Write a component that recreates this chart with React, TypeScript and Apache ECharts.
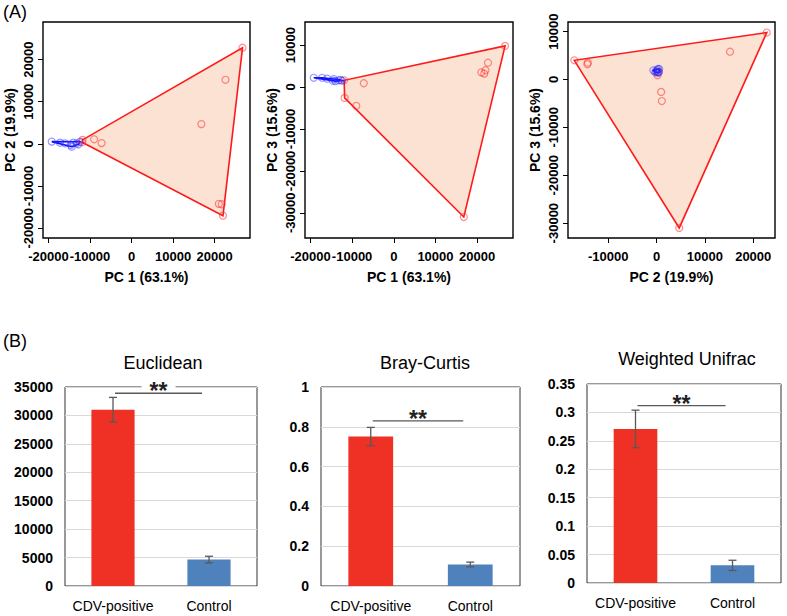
import React, { useEffect, useRef } from "react";
import * as echarts from "echarts";

const FONT = "'Liberation Sans', Arial, Helvetica, sans-serif";

// ---- (A) PCA scores ----
const redPC1 = [-11800, -11900, -9000, -7200, 16800, 22600, 26700, 21000, 21700, 22000];
const redPC2 = [950, 400, 1100, 200, 4700, 15200, 22800, -14200, -14300, -17000];
const redPC3 = [-2600, 1600, -4500, 900, -31000, 5800, 9800, 3500, 3200, 4000];
const bluePC1 = [-19200, -17200, -16000, -14600, -14400, -14000, -13200, -12400, -12800];
const bluePC2 = [550, 300, 150, -250, -650, 300, 150, 500, -100];
const bluePC3 = [2200, 2200, 2000, 1500, 1900, 1400, 1600, 1500, 1700];

const pc1Ticks = [-20000, -10000, 0, 10000, 20000];
const pc2TicksA1 = [-20000, -10000, 0, 10000, 20000];
const pc3TicksA2 = [-30000, -20000, -10000, 0, 10000];
const pc2TicksA3 = [-10000, 0, 10000, 20000];
const pc3TicksA3 = [-30000, -20000, -10000, 0, 10000];

// ---- (B) distance bars ----
const barCategories = ["CDV-positive", "Control"];
const euclideanMean = [31000, 4650];
const euclideanErr = [2170, 580];
const brayMean = [0.751, 0.108];
const brayErr = [0.046, 0.012];
const unifracMean = [0.271, 0.031];
const unifracErr = [0.033, 0.009];
const sigLevel = [33900, 0.83, 0.312];
const barTitles = ["Euclidean", "Bray-Curtis", "Weighted Unifrac"];

const zip = (a: number[], b: number[]) => a.map((v, i) => [v, b[i]]);
const plain = (v: number) => String(Math.round(v * 1000) / 1000);

function convexHull(points: number[][]) {
  const p = points.slice().sort((a, b) => a[0] - b[0] || a[1] - b[1]);
  const cross = (o: number[], a: number[], b: number[]) =>
    (a[0] - o[0]) * (b[1] - o[1]) - (a[1] - o[1]) * (b[0] - o[0]);
  const lower: number[][] = [];
  for (const pt of p) {
    while (lower.length >= 2 && cross(lower[lower.length - 2], lower[lower.length - 1], pt) <= 0) lower.pop();
    lower.push(pt);
  }
  const upper: number[][] = [];
  for (let i = p.length - 1; i >= 0; i--) {
    const pt = p[i];
    while (upper.length >= 2 && cross(upper[upper.length - 2], upper[upper.length - 1], pt) <= 0) upper.pop();
    upper.push(pt);
  }
  upper.pop();
  lower.pop();
  return lower.concat(upper);
}

function hullSeries(idx: number, pts: number[][], stroke: string, fill: string) {
  const hull = convexHull(pts);
  return {
    type: "custom",
    xAxisIndex: idx,
    yAxisIndex: idx,
    data: [pts[0]],
    silent: true,
    z: 2,
    renderItem: (_p: any, api: any) => ({
      type: "polygon",
      shape: { points: hull.map((q) => api.coord(q)) },
      style: { fill, stroke, lineWidth: 1.6 },
    }),
  };
}

function scatterSeries(idx: number, pts: number[][], color: string) {
  return {
    type: "scatter",
    xAxisIndex: idx,
    yAxisIndex: idx,
    data: pts,
    symbol: "circle",
    symbolSize: 7,
    z: 3,
    itemStyle: { color: "rgba(0,0,0,0)", borderColor: color, borderWidth: 1.2 },
  };
}

const pcaTextStyle = { fontSize: 14, fontWeight: "bold" as const, color: "#000", fontFamily: FONT };
const pcaTickStyle = { ...pcaTextStyle, fontSize: 13 };

function pcaXAxis(idx: number, min: number, max: number, ticks: number[], name: string) {
  return {
    type: "value",
    gridIndex: idx,
    min,
    max,
    axisLine: { show: false, onZero: false },
    axisTick: { show: true, customValues: ticks, length: 5, lineStyle: { color: "#000", width: 1 } },
    axisLabel: {
      customValues: ticks, margin: 12, hideOverlap: false, showMinLabel: true, showMaxLabel: true,
      formatter: plain, ...pcaTickStyle,
    },
    splitLine: { show: false },
    name,
    nameLocation: "middle",
    nameGap: 32,
    nameTextStyle: { ...pcaTextStyle },
  };
}

function pcaYAxis(idx: number, min: number, max: number, ticks: number[], name: string) {
  return {
    type: "value",
    gridIndex: idx,
    min,
    max,
    axisLine: { show: false, onZero: false },
    axisTick: { show: true, customValues: ticks, length: 5, lineStyle: { color: "#000", width: 1 } },
    axisLabel: {
      customValues: ticks, margin: 8, rotate: 90, hideOverlap: false, showMinLabel: true, showMaxLabel: true,
      formatter: plain, ...pcaTickStyle,
    },
    splitLine: { show: false },
    name,
    nameLocation: "middle",
    nameRotate: 90,
    nameGap: 26,
    nameTextStyle: { ...pcaTextStyle },
  };
}

const barColors = ["#EE3124", "#4F81BD"];
const barLabelStyle = { fontSize: 14, fontWeight: "bold" as const, color: "#000", fontFamily: FONT };

function barXAxis(idx: number) {
  return {
    type: "category",
    gridIndex: idx,
    data: barCategories,
    axisLine: { show: false, onZero: false },
    axisTick: { show: false },
    axisLabel: { margin: 13, interval: 0, hideOverlap: false, ...barLabelStyle, fontWeight: "normal" },
  };
}

function barYAxis(idx: number, max: number, interval: number) {
  return {
    type: "value",
    gridIndex: idx,
    min: 0,
    max,
    interval,
    axisLine: { show: false, onZero: false },
    axisTick: { show: false },
    axisLabel: {
      margin: 12, hideOverlap: false, showMinLabel: true, showMaxLabel: true, formatter: plain, ...barLabelStyle,
    },
    splitLine: { show: true, lineStyle: { color: "#d9d9d9", width: 1 } },
  };
}

function barSeries(idx: number, mean: number[], err: number[], sig: number) {
  return [
    {
      type: "bar",
      xAxisIndex: idx,
      yAxisIndex: idx,
      barWidth: "45%",
      z: 2,
      data: mean.map((v, i) => ({ value: v, itemStyle: { color: barColors[i] } })),
    },
    {
      type: "custom",
      xAxisIndex: idx,
      yAxisIndex: idx,
      z: 4,
      encode: { x: 0, y: [1, 2] },
      data: mean.map((m, i) => [i, m - err[i], m + err[i]]),
      renderItem: (_p: any, api: any) => {
        const c = api.value(0);
        const lo = api.coord([c, api.value(1)]);
        const hi = api.coord([c, api.value(2)]);
        const hw = 4;
        const st = { stroke: "#595959", lineWidth: 1.3 };
        return {
          type: "group",
          children: [
            { type: "line", shape: { x1: lo[0], y1: lo[1], x2: hi[0], y2: hi[1] }, style: st },
            { type: "line", shape: { x1: lo[0] - hw, y1: lo[1], x2: lo[0] + hw, y2: lo[1] }, style: st },
            { type: "line", shape: { x1: hi[0] - hw, y1: hi[1], x2: hi[0] + hw, y2: hi[1] }, style: st },
          ],
        };
      },
    },
    {
      type: "custom",
      xAxisIndex: idx,
      yAxisIndex: idx,
      z: 5,
      encode: { x: 0, y: 2 },
      data: [[0, 1, sig]],
      renderItem: (_p: any, api: any) => {
        const y = api.value(2);
        const a = api.coord([api.value(0), y]);
        const b = api.coord([api.value(1), y]);
        const x1 = a[0] + 2;
        const x2 = b[0] - 7;
        const mid = (x1 + x2) / 2;
        return {
          type: "group",
          children: [
            { type: "line", shape: { x1, y1: a[1], x2, y2: a[1] }, style: { stroke: "#595959", lineWidth: 1.3 } },
            { type: "rect", shape: { x: mid - 17, y: a[1] - 14, width: 34, height: 10 }, style: { fill: "#fff" } },
            {
              type: "text",
              style: {
                text: "**",
                x: mid,
                y: a[1] - 2,
                align: "center",
                verticalAlign: "middle",
                font: `bold 23px ${FONT}`,
                fill: "#222",
              },
            },
          ],
        };
      },
    },
  ];
}

const App: React.FC = () => {
  const ref = useRef<HTMLDivElement>(null);
  useEffect(() => {
    document.body.style.margin = "0";
    if (!ref.current) return;
    const chart = echarts.init(ref.current, undefined, { renderer: "svg" });

    const grids = [
      { left: 43, top: 22, width: 207, height: 216 },
      { left: 305, top: 22, width: 208, height: 216 },
      { left: 568, top: 22, width: 207, height: 216 },
      { left: 65, top: 387, width: 192, height: 199 },
      { left: 321, top: 387, width: 199, height: 199 },
      { left: 587, top: 384, width: 194, height: 199 },
    ].map((g, i) => ({
      ...g,
      show: true,
      backgroundColor: "#fff",
      borderColor: i < 3 ? "#000" : "#333",
      borderWidth: i < 3 ? 1.4 : 1,
      containLabel: false,
      outerBoundsMode: "none",
    }));

    const option: any = {
      animation: false,
      backgroundColor: "#fff",
      textStyle: { fontFamily: FONT },
      grid: grids,
      xAxis: [
        pcaXAxis(0, -21300, 28500, pc1Ticks, "PC 1 (63.1%)"),
        pcaXAxis(1, -21300, 28600, pc1Ticks, "PC 1 (63.1%)"),
        pcaXAxis(2, -18300, 24500, pc2TicksA3, "PC 2 (19.9%)"),
        barXAxis(3),
        barXAxis(4),
        barXAxis(5),
      ],
      yAxis: [
        pcaYAxis(0, -22300, 28900, pc2TicksA1, "PC 2 (19.9%)"),
        pcaYAxis(1, -36000, 15500, pc3TicksA2, "PC 3 (15.6%)"),
        pcaYAxis(2, -33100, 12000, pc3TicksA3, "PC 3 (15.6%)"),
        barYAxis(3, 35000, 5000),
        barYAxis(4, 1, 0.2),
        barYAxis(5, 0.35, 0.05),
      ],
      series: [
        hullSeries(0, zip(redPC1, redPC2), "#ff1a1a", "#fbe2d3"),
        hullSeries(0, zip(bluePC1, bluePC2), "#1010ff", "rgba(200,200,255,0.3)"),
        scatterSeries(0, zip(redPC1, redPC2), "rgba(255,50,50,0.7)"),
        scatterSeries(0, zip(bluePC1, bluePC2), "rgba(40,40,255,0.6)"),
        hullSeries(1, zip(redPC1, redPC3), "#ff1a1a", "#fbe2d3"),
        hullSeries(1, zip(bluePC1, bluePC3), "#1010ff", "rgba(200,200,255,0.3)"),
        scatterSeries(1, zip(redPC1, redPC3), "rgba(255,50,50,0.7)"),
        scatterSeries(1, zip(bluePC1, bluePC3), "rgba(40,40,255,0.6)"),
        hullSeries(2, zip(redPC2, redPC3), "#ff1a1a", "#fbe2d3"),
        hullSeries(2, zip(bluePC2, bluePC3), "#1010ff", "rgba(200,200,255,0.3)"),
        scatterSeries(2, zip(redPC2, redPC3), "rgba(255,50,50,0.7)"),
        scatterSeries(2, zip(bluePC2, bluePC3), "rgba(40,40,255,0.6)"),
        ...barSeries(3, euclideanMean, euclideanErr, sigLevel[0]),
        ...barSeries(4, brayMean, brayErr, sigLevel[1]),
        ...barSeries(5, unifracMean, unifracErr, sigLevel[2]),
      ],
      graphic: [
        { type: "text", x: 3, y: 3, style: { text: "(A)", font: `18px ${FONT}`, fill: "#000" } },
        { type: "text", x: 3, y: 332, style: { text: "(B)", font: `18px ${FONT}`, fill: "#000" } },
        { type: "text", x: 163, y: 363, style: { text: barTitles[0], font: `18px ${FONT}`, fill: "#000", align: "center", verticalAlign: "middle" } },
        { type: "text", x: 425, y: 363, style: { text: barTitles[1], font: `18px ${FONT}`, fill: "#000", align: "center", verticalAlign: "middle" } },
        { type: "text", x: 687, y: 359, style: { text: barTitles[2], font: `18px ${FONT}`, fill: "#000", align: "center", verticalAlign: "middle" } },
      ],
    };
    chart.setOption(option);
    return () => chart.dispose();
  }, []);
  return <div ref={ref} style={{ width: 787, height: 616 }} />;
};

export default App;
